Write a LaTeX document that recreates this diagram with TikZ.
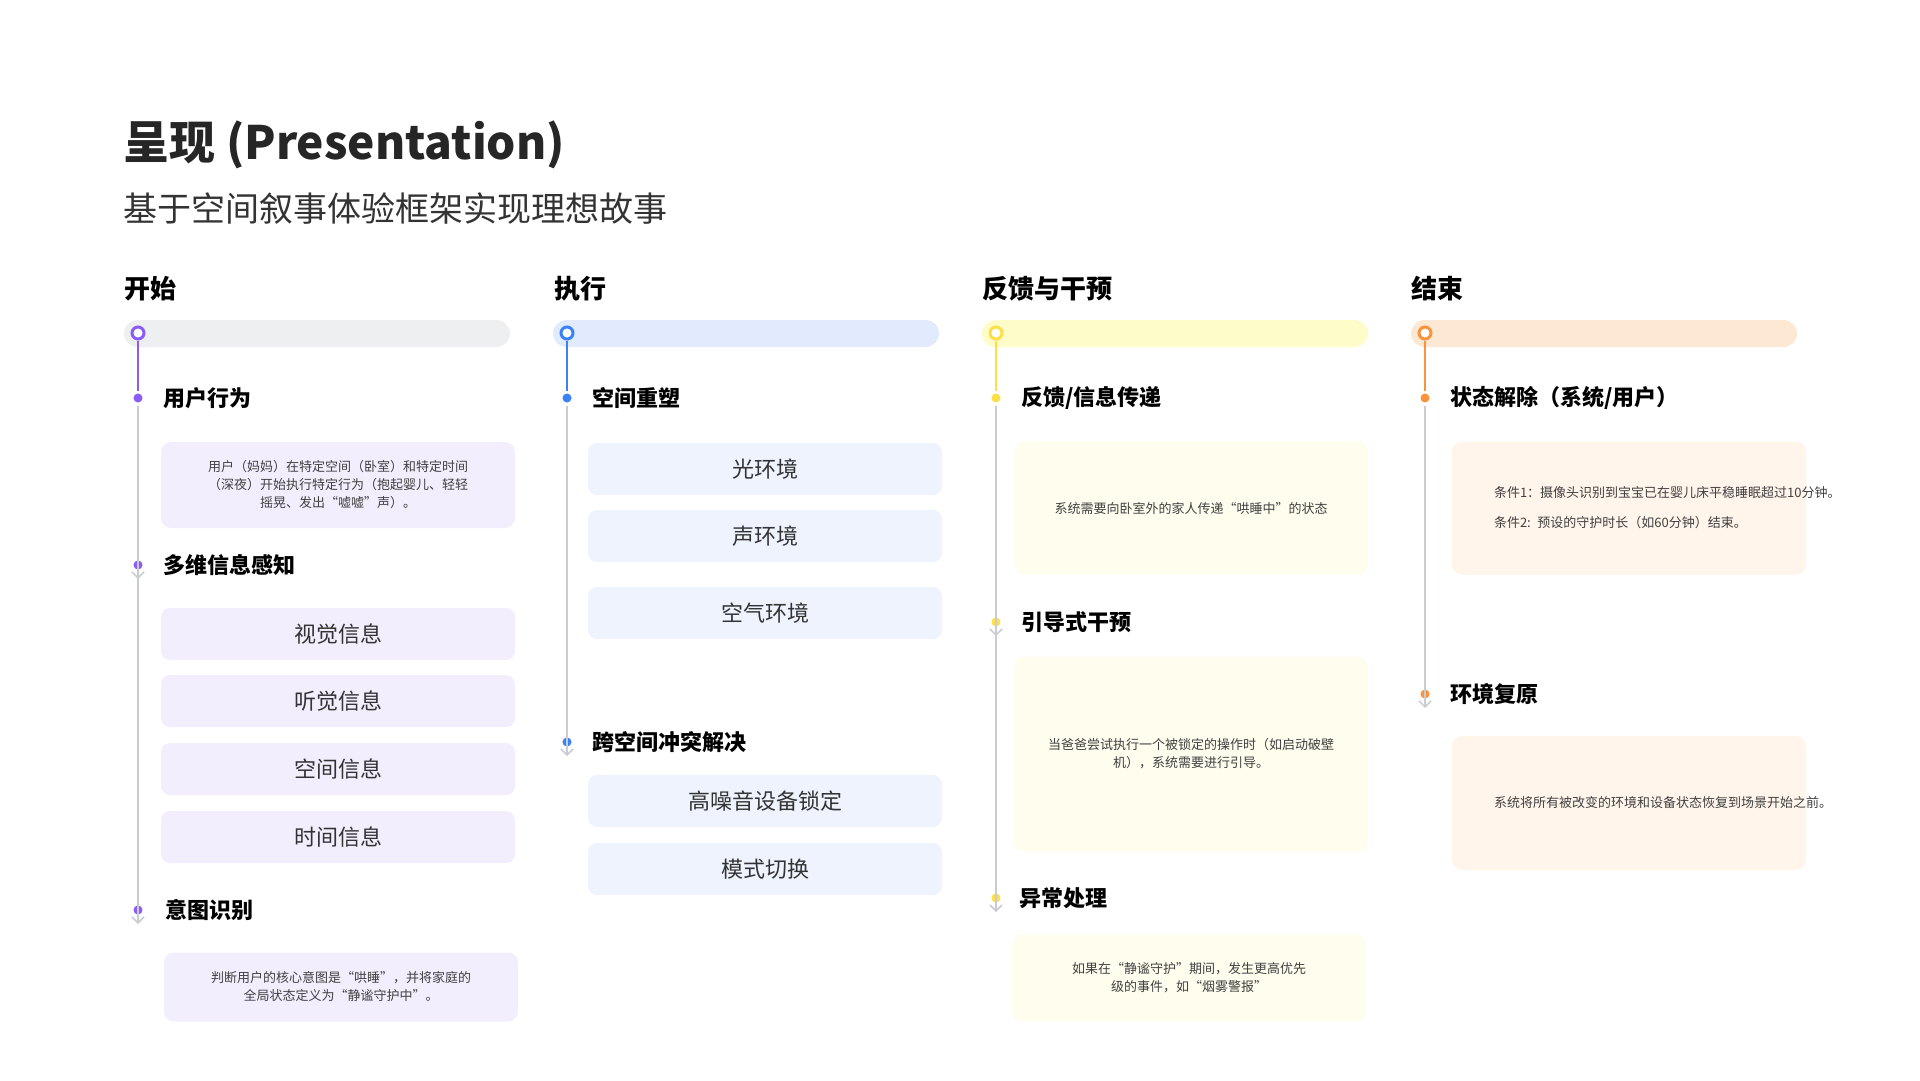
\documentclass[tikz,border=0pt]{standalone}
\usepackage{fontspec}
\setmainfont{Noto Sans CJK SC}
\usetikzlibrary{positioning,arrows.meta}
\definecolor{cpurple}{HTML}{8B5CF6}
\definecolor{cblue}{HTML}{3B82F6}
\definecolor{cyellow}{HTML}{FDE047}
\definecolor{corange}{HTML}{FB923C}
\definecolor{fpurple}{HTML}{F3EEFD}
\definecolor{fblue}{HTML}{EEF3FE}
\definecolor{fyellow}{HTML}{FFFDEE}
\definecolor{forange}{HTML}{FFF5EA}
\definecolor{bgrey}{HTML}{EEEFF1}
\definecolor{bblue}{HTML}{E2EAFD}
\definecolor{byellow}{HTML}{FEFCC8}
\definecolor{borange}{HTML}{FDE8D3}
\definecolor{lgrey}{HTML}{C9CCD3}
\tikzset{
  bar/.style={fill=#1, rounded corners=13.5, draw=none},
  ring/.style={circle, draw=#1, line width=3, fill=white, minimum size=12, inner sep=0},
  dot/.style={circle, fill=#1, draw=white, line width=3, minimum size=12, inner sep=0},
  colhead/.style={anchor=west, font=\fontsize{26}{30}\selectfont\bfseries},
  stagehead/.style={anchor=west, font=\fontsize{22}{26}\selectfont\bfseries},
  itembox/.style={fill=#1, rounded corners=9, minimum width=354, minimum height=52, inner sep=0, font=\fontsize{22}{26}\selectfont, text=black!80},
  notebox/.style={fill=#1, rounded corners=10, inner sep=0, align=center, font=\fontsize{13}{18}\selectfont, text=black!75},
  flow/.style={lgrey, line width=1.5, -{Straight Barb[length=6,width=12]}},
}
\begin{document}
\begin{tikzpicture}[x=1pt,y=-1pt]
  \useasboundingbox (0,0) rectangle (1920,1080);
  % title
  \node[anchor=west, font=\fontsize{46}{52}\selectfont\bfseries, text=black!85] (title) at (120,145) {呈现 (Presentation)};
  \node[anchor=west, font=\fontsize{34}{40}\selectfont, text=black!80] (subtitle) at (120,209) {基于空间叙事体验框架实现理想故事};
  % column heads and bars
  \node[colhead] (h1) at (121,289) {开始};
  \node[colhead] (h2) at (551,289) {执行};
  \node[colhead] (h3) at (979,289) {反馈与干预};
  \node[colhead] (h4) at (1408,289) {结束};
  \fill[bar=bgrey] (124,320) rectangle (510,347);
  \fill[bar=bblue] (553,320) rectangle (939,347);
  \fill[bar=byellow] (982,320) rectangle (1368,347);
  \fill[bar=borange] (1411,320) rectangle (1797,347);
  \node[ring=cpurple] (r1) at (138,333) {};
  \node[ring=cblue] (r2) at (567,333) {};
  \node[ring=cyellow] (r3) at (996,333) {};
  \node[ring=corange] (r4) at (1425,333) {};

  % column 1: start
  \node[dot=cpurple] (a1) at (138,398) {};
  \node[dot=cpurple] (a2) at (138,565) {};
  \node[dot=cpurple] (a3) at (138,910) {};
  \node[stagehead, right=14 of a1] {用户行为};
  \node[stagehead, right=14 of a2] {多维信息感知};
  \node[stagehead, right=16 of a3] {意图识别};
  \node[notebox=fpurple, minimum width=354, minimum height=86] (n1) at (338,485) {用户（妈妈）在特定空间（卧室）和特定时间\\（深夜）开始执行特定行为（抱起婴儿、轻轻\\摇晃、发出“嘘嘘”声）。};
  \foreach \t/\y [count=\i] in {视觉信息/634, 听觉信息/701, 空间信息/769, 时间信息/837}
    \node[itembox=fpurple] (p\i) at (338,\y) {\t};
  \node[notebox=fpurple, minimum width=354, minimum height=69] (n2) at (341,987) {判断用户的核心意图是“哄睡”，并将家庭的\\全局状态定义为“静谧守护中”。};
  \draw[cpurple, line width=2] (r1) -- (a1);
  \draw[flow] (a1) -- ([yshift=-14]a2.center);
  \draw[flow] (a2) -- ([yshift=-14]a3.center);

  % column 2: execute
  \node[dot=cblue] (b1) at (567,398) {};
  \node[dot=cblue] (b2) at (567,742) {};
  \node[stagehead, right=14 of b1] {空间重塑};
  \node[stagehead, right=14 of b2] {跨空间冲突解决};
  \foreach \t/\y [count=\i] in {光环境/469, 声环境/536, 空气环境/613}
    \node[itembox=fblue] (q\i) at (765,\y) {\t};
  \node[itembox=fblue] (q4) at (765,801) {高噪音设备锁定};
  \node[itembox=fblue] (q5) at (765,869) {模式切换};
  \draw[cblue, line width=2] (r2) -- (b1);
  \draw[flow] (b1) -- ([yshift=-14]b2.center);

  % column 3: feedback
  \node[dot=cyellow] (c1) at (996,398) {};
  \node[dot=cyellow] (c2) at (996,622) {};
  \node[dot=cyellow] (c3) at (996,898) {};
  \node[stagehead, right=14 of c1] {反馈/信息传递};
  \node[stagehead, right=14 of c2] {引导式干预};
  \node[stagehead, right=12 of c3] {异常处理};
  \node[notebox=fyellow, minimum width=354, minimum height=133] (m1) at (1191,508) {系统需要向卧室外的家人传递“哄睡中”的状态};
  \node[notebox=fyellow, minimum width=354, minimum height=195] (m2) at (1191,754) {当爸爸尝试执行一个被锁定的操作时（如启动破壁\\机），系统需要进行引导。};
  \node[notebox=fyellow, minimum width=354, minimum height=87] (m3) at (1189,978) {如果在“静谧守护”期间，发生更高优先\\级的事件，如“烟雾警报”};
  \draw[cyellow, line width=2] (r3) -- (c1);
  \draw[flow] (c1) -- ([yshift=-14]c2.center);
  \draw[flow] (c2) -- ([yshift=-14]c3.center);

  % column 4: end
  \node[dot=corange] (d1) at (1425,398) {};
  \node[dot=corange] (d2) at (1425,694) {};
  \node[stagehead, right=14 of d1] {状态解除（系统/用户）};
  \node[stagehead, right=14 of d2] {环境复原};
  \node[notebox=forange, minimum width=354, minimum height=133, align=left, text width=270] (o1) at (1629,508) {条件1：摄像头识别到宝宝已在婴儿床平稳睡眠超过10分钟。\\[12pt]条件2: 预设的守护时长（如60分钟）结束。};
  \node[notebox=forange, minimum width=354, minimum height=134, align=left, text width=270] (o2) at (1629,803) {系统将所有被改变的环境和设备状态恢复到场景开始之前。};
  \draw[corange, line width=2] (r4) -- (d1);
  \draw[flow] (d1) -- ([yshift=-14]d2.center);
\end{tikzpicture}
\end{document}
